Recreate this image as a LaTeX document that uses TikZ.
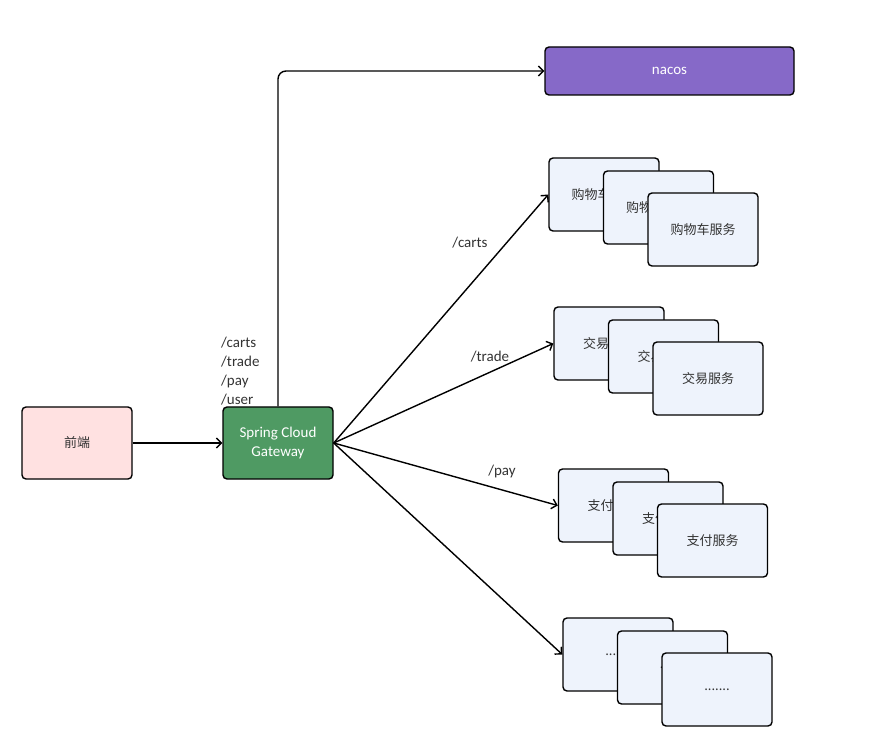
\documentclass[tikz,border=0pt]{standalone}
\usepackage{fontspec}
\setmainfont{Carlito}
\newfontfamily\cjk{Noto Sans CJK SC}
\usetikzlibrary{arrows.meta, positioning}
\definecolor{textDark}{HTML}{333333}
\definecolor{feFill}{HTML}{FFE1E1}
\definecolor{gwFill}{HTML}{4F9A63}
\definecolor{nacosFill}{HTML}{8669C8}
\definecolor{svcFill}{HTML}{EEF3FC}
\newcommand{\moredots}{.......}

\begin{document}
\begin{tikzpicture}[
    x=1pt, y=-1pt,
    box/.style={rectangle, rounded corners=4pt, draw=black, line width=1.4pt,
                fill=#1, minimum width=110pt, minimum height=72pt,
                align=center, font=\fontsize{13}{16}\selectfont\cjk\color{textDark}},
    svc/.style={box=svcFill, minimum height=73pt},
    link/.style={-{Straight Barb[length=5pt, width=10pt]}, line width=1.4pt},
    lbl/.style={font=\fontsize{15}{19}\selectfont\color{textDark}},
  ]
    \useasboundingbox (0,0) rectangle (876,743);

    % left side
    \node[box=feFill] (fe) at (77,443) {前端};
    \node[box=gwFill, font=\fontsize{15}{19}\selectfont\color{white}] (gw) at (278,443)
      {Spring Cloud\\Gateway};
    \node[box=nacosFill, minimum width=249pt, minimum height=48pt,
          font=\fontsize{15}{16}\selectfont\color{white}] (nacos) at (669.5,71) {nacos};
    \node[lbl, anchor=south west, align=left, inner sep=0pt] (routes) at (221,405)
      {/carts\\/trade\\/pay\\/user};

    % service stacks
    \foreach \name/\x/\y/\txt in {cart/604/194.5/购物车服务, trade/609/343.5/交易服务,
                                   pay/613.5/505.5/支付服务, more/618/654.5/\moredots} {
      \node[svc] (\name1) at (\x,\y) {\txt};
      \node[svc] (\name2) at (\x+54.5,\y+13) {\txt};
      \node[svc] (\name3) at (\x+99,\y+35) {\txt};
    }

    % connectors
    \draw[link] (fe) -- (gw);
    \draw[link, rounded corners=8pt] (gw.north) |- (nacos.west);
    \draw[link] (gw.east) -- (cart1.west);
    \draw[link] (gw.east) -- (trade1.west);
    \draw[link] (gw.east) -- (pay1.west);
    \draw[link] (gw.east) -- (more1.west);

    \node[lbl] (lcart) at (470,243) {/carts};
    \node[lbl] (ltrade) at (490,357) {/trade};
    \node[lbl] (lpay) at (502,472) {/pay};
  \end{tikzpicture}
\end{document}
